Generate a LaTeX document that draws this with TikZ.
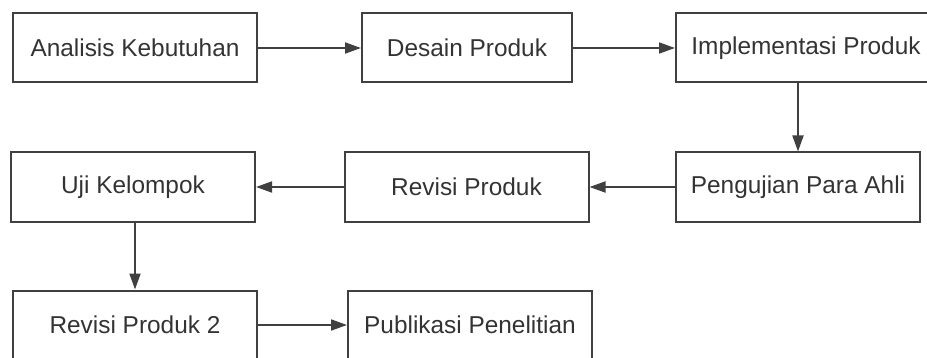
\documentclass[tikz,border=0pt]{standalone}
\usepackage{fontspec}
\setmainfont{Liberation Sans}
\usetikzlibrary{arrows.meta}
\definecolor{boxline}{rgb}{0.25, 0.25, 0.25}
\definecolor{boxtext}{rgb}{0.2, 0.2, 0.2}

\begin{document}
\begin{tikzpicture}[x=0.5pt, y=-0.5pt,
        stage/.style={draw=boxline, line width=1pt, minimum width=122pt, minimum height=34.5pt,
            inner sep=0pt, text=boxtext, font=\fontsize{12.2}{14}\selectfont},
        flow/.style={-{Triangle[length=8pt, width=5.5pt]}, draw=boxline, line width=0.9pt}]
        \useasboundingbox (0,0) rectangle (927,358);

        \node (analisis) [stage] at (135,48) {Analisis Kebutuhan};
        \node (desain)   [stage, minimum width=105pt] at (467,48) {Desain Produk};
        \node (impl)     [stage, minimum width=130pt] at (806,48) {Implementasi Produk};

        \node (uji)      [stage] at (133,187) {Uji Kelompok};
        \node (revisi)   [stage] at (466.5,187) {Revisi Produk};
        \node (ahli)     [stage] at (798,187) {Pengujian Para Ahli};

        \node (revisi2)  [stage] at (135,325) {Revisi Produk 2};
        \node (publik)   [stage] at (470,325) {Publikasi Penelitian};

        \draw [flow] (analisis) -- (desain);
        \draw [flow] (desain)   -- (impl);
        \draw [flow] (impl.south -| ahli.north) -- (ahli.north);
        \draw [flow] (ahli)     -- (revisi);
        \draw [flow] (revisi)   -- (uji);
        \draw [flow] (uji.south -| revisi2.north) -- (revisi2.north);
        \draw [flow] (revisi2)  -- (publik);
    \end{tikzpicture}
\end{document}
